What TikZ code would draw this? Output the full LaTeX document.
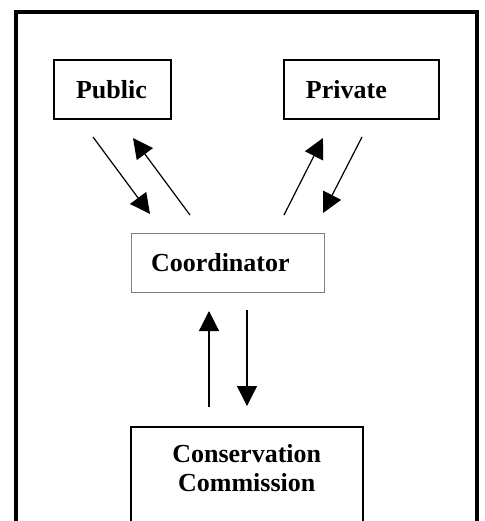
\documentclass[tikz,border=0pt]{standalone}
\usepackage{fontspec}
\setmainfont{Liberation Serif}
\usetikzlibrary{positioning,arrows.meta}

\begin{document}
\begin{tikzpicture}[
  x=0.5pt, y=-0.5pt,
  every node/.style={font=\fontsize{13}{14.5}\selectfont\bfseries},
  party/.style={draw,line width=0.9pt,minimum height=29.5pt,inner xsep=11pt,align=left},
  flow/.style={line width=0.6pt,-{Triangle[length=10pt,width=10pt]}}
]
\clip (0,0) rectangle (484,521);
% outer frame, open at the bottom
\draw[line width=2pt] (16,560) |- (477,12) -- (477,560);

\node[party,text width=36.5pt] (public) at (112.5,89.5) {Public};
\node[party,text width=55.5pt] (private) at (361.5,89.5) {Private};
\node[party,draw=gray,line width=0.5pt,inner xsep=10pt,text width=76.5pt] (coord) at (227.5,262.5) {Coordinator};
\node[draw,line width=1pt,anchor=north,align=center,minimum width=115.85pt,
      inner ysep=8.7pt,text depth=40pt] (commission) at (246.75,426) {Conservation\\Commission};

% arrow ends
\coordinate (public-out) at (93,137);
\coordinate (coord-in-l) at (150,214);
\coordinate (coord-out-l) at (190,215);
\coordinate (public-in) at (133,138);
\coordinate (coord-out-r) at (284,215);
\coordinate (private-in) at (323,138);
\coordinate (private-out) at (362,137);
\coordinate (coord-in-r) at (323,213);
\coordinate (comm-out) at (209,407);
\coordinate (coord-in-b) at (209,311);
\coordinate (coord-out-b) at (247,310);
\coordinate (comm-in) at (247,406);

\draw[flow] (public-out) -- (coord-in-l);
\draw[flow] (coord-out-l) -- (public-in);
\draw[flow] (coord-out-r) -- (private-in);
\draw[flow] (private-out) -- (coord-in-r);
\draw[flow] (comm-out) -- (coord-in-b);
\draw[flow] (coord-out-b) -- (comm-in);
\end{tikzpicture}
\end{document}
